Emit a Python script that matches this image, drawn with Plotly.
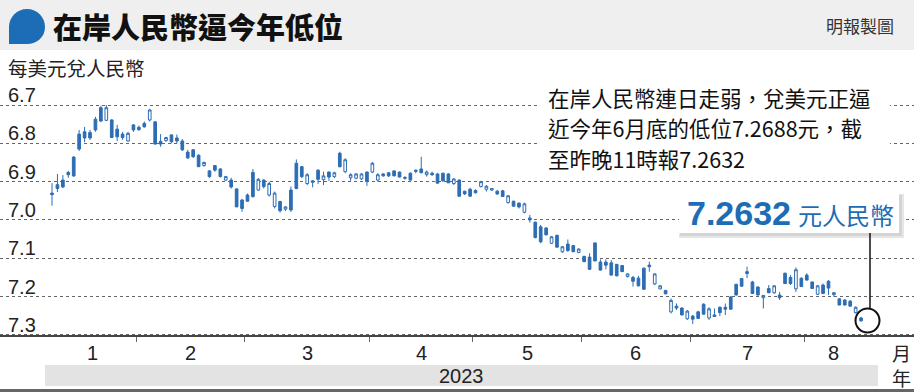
import plotly.graph_objects as go

# ---------------- data ----------------
month_labels = ["1", "2", "3", "4", "5", "6", "7", "8"]
month_counts = [16, 20, 23, 19, 20, 20, 21, 11]   # trading days drawn per month
year_label = "2023"

y_tickvals = [6.7, 6.8, 6.9, 7.0, 7.1, 7.2, 7.3]
y_ticktext = ["6.7", "6.8", "6.9", "7.0", "7.1", "7.2", "7.3"]

opens = [
    6.930, 6.908, 6.896, 6.876, 6.836, 6.776, 6.770, 6.772, 6.737, 6.707,
    6.740, 6.739, 6.763, 6.776, 6.794, 6.752, 6.758, 6.748, 6.739, 6.744,
    6.795, 6.793, 6.778, 6.786, 6.794, 6.823, 6.817, 6.831, 6.858, 6.872,
    6.858, 6.867, 6.896, 6.896, 6.919, 6.948, 6.935, 6.876, 6.922, 6.896,
    6.935, 6.965, 6.952, 6.972, 6.922, 6.852, 6.861, 6.905, 6.902, 6.870,
    6.895, 6.875, 6.887, 6.826, 6.874, 6.890, 6.891, 6.893, 6.875, 6.875,
    6.896, 6.880, 6.877, 6.872, 6.875, 6.889, 6.878, 6.870, 6.867, 6.882,
    6.878, 6.880, 6.878, 6.880, 6.905, 6.896, 6.925, 6.920, 6.923, 6.913,
    6.920, 6.922, 6.925, 6.924, 6.955, 6.951, 6.956, 6.980, 6.995, 7.006,
    7.018, 7.021, 7.061, 7.040, 7.083, 7.063, 7.067, 7.085, 7.095, 7.097,
    7.060, 7.110, 7.110, 7.112, 7.116, 7.119, 7.148, 7.150, 7.152, 7.126,
    7.118, 7.167, 7.180, 7.184, 7.240, 7.225, 7.230, 7.258, 7.251, 7.240,
    7.220, 7.256, 7.248, 7.228, 7.228, 7.201, 7.168, 7.153, 7.135, 7.162,
    7.175, 7.203, 7.179, 7.190, 7.196, 7.139, 7.150, 7.180, 7.152, 7.144,
    7.162, 7.194, 7.170, 7.160, 7.195, 7.206, 7.209, 7.212, 7.242, 7.256,
]
closes = [
    6.934, 6.918, 6.914, 6.882, 6.885, 6.815, 6.786, 6.786, 6.765, 6.742,
    6.707, 6.785, 6.783, 6.785, 6.774, 6.765, 6.764, 6.757, 6.713, 6.802,
    6.802, 6.785, 6.796, 6.794, 6.817, 6.838, 6.835, 6.861, 6.850, 6.887,
    6.870, 6.887, 6.887, 6.914, 6.966, 6.970, 6.951, 6.939, 6.894, 6.913,
    6.905, 6.930, 6.976, 6.966, 6.974, 6.918, 6.887, 6.882, 6.898, 6.894,
    6.885, 6.888, 6.877, 6.861, 6.843, 6.882, 6.880, 6.880, 6.900, 6.852,
    6.882, 6.885, 6.885, 6.885, 6.888, 6.891, 6.896, 6.873, 6.877, 6.875,
    6.882, 6.904, 6.898, 6.903, 6.893, 6.938, 6.932, 6.938, 6.929, 6.900,
    6.912, 6.918, 6.932, 6.939, 6.937, 6.964, 6.966, 6.958, 7.000, 7.046,
    7.057, 7.039, 7.044, 7.071, 7.070, 7.080, 7.083, 7.076, 7.109, 7.129,
    7.107, 7.131, 7.118, 7.144, 7.146, 7.135, 7.141, 7.160, 7.172, 7.181,
    7.122, 7.141, 7.172, 7.193, 7.210, 7.230, 7.248, 7.238, 7.259, 7.257,
    7.246, 7.232, 7.252, 7.242, 7.233, 7.233, 7.196, 7.173, 7.140, 7.192,
    7.196, 7.197, 7.190, 7.172, 7.203, 7.166, 7.166, 7.130, 7.174, 7.157,
    7.179, 7.172, 7.192, 7.178, 7.190, 7.222, 7.222, 7.225, 7.228, 7.2632,
]
highs = [
    6.963, 6.927, 6.917, 6.890, 6.888, 6.820, 6.797, 6.791, 6.770, 6.744,
    6.742, 6.786, 6.794, 6.791, 6.796, 6.770, 6.768, 6.759, 6.743, 6.803,
    6.809, 6.796, 6.800, 6.800, 6.820, 6.841, 6.838, 6.862, 6.861, 6.890,
    6.874, 6.889, 6.898, 6.918, 6.966, 6.979, 6.952, 6.942, 6.924, 6.918,
    6.939, 6.970, 6.981, 6.977, 6.979, 6.920, 6.891, 6.909, 6.915, 6.906,
    6.909, 6.898, 6.891, 6.863, 6.878, 6.898, 6.894, 6.896, 6.911, 6.878,
    6.900, 6.887, 6.888, 6.886, 6.889, 6.895, 6.897, 6.878, 6.878, 6.887,
    6.885, 6.905, 6.900, 6.904, 6.909, 6.939, 6.935, 6.939, 6.931, 6.915,
    6.926, 6.924, 6.935, 6.940, 6.957, 6.965, 6.970, 6.983, 7.007, 7.048,
    7.061, 7.040, 7.063, 7.072, 7.086, 7.083, 7.084, 7.087, 7.110, 7.130,
    7.108, 7.132, 7.129, 7.145, 7.147, 7.136, 7.150, 7.174, 7.174, 7.182,
    7.135, 7.170, 7.181, 7.194, 7.244, 7.235, 7.249, 7.261, 7.272, 7.258,
    7.247, 7.261, 7.253, 7.251, 7.248, 7.234, 7.197, 7.174, 7.152, 7.193,
    7.197, 7.231, 7.191, 7.193, 7.209, 7.167, 7.170, 7.188, 7.175, 7.158,
    7.180, 7.196, 7.193, 7.196, 7.201, 7.223, 7.223, 7.226, 7.244, 7.266,
]
lows = [
    6.904, 6.880, 6.883, 6.872, 6.833, 6.765, 6.757, 6.765, 6.731, 6.702,
    6.700, 6.737, 6.752, 6.770, 6.770, 6.750, 6.754, 6.743, 6.710, 6.743,
    6.776, 6.783, 6.777, 6.777, 6.789, 6.817, 6.815, 6.829, 6.848, 6.870,
    6.857, 6.865, 6.885, 6.890, 6.918, 6.945, 6.931, 6.867, 6.891, 6.894,
    6.900, 6.926, 6.950, 6.964, 6.913, 6.842, 6.859, 6.878, 6.896, 6.868,
    6.874, 6.874, 6.874, 6.822, 6.839, 6.878, 6.878, 6.878, 6.874, 6.849,
    6.878, 6.878, 6.875, 6.871, 6.874, 6.886, 6.876, 6.869, 6.835, 6.871,
    6.874, 6.878, 6.877, 6.878, 6.891, 6.894, 6.924, 6.916, 6.920, 6.898,
    6.909, 6.917, 6.922, 6.922, 6.935, 6.950, 6.955, 6.955, 6.987, 7.004,
    7.013, 7.019, 7.042, 7.039, 7.068, 7.051, 7.066, 7.074, 7.094, 7.087,
    7.059, 7.103, 7.103, 7.105, 7.115, 7.118, 7.139, 7.146, 7.146, 7.124,
    7.109, 7.139, 7.170, 7.183, 7.205, 7.218, 7.228, 7.235, 7.248, 7.237,
    7.218, 7.228, 7.231, 7.226, 7.218, 7.199, 7.167, 7.152, 7.122, 7.159,
    7.174, 7.196, 7.170, 7.170, 7.188, 7.138, 7.144, 7.124, 7.150, 7.139,
    7.161, 7.170, 7.166, 7.157, 7.188, 7.205, 7.207, 7.209, 7.226, 7.253,
]

title_text = "在岸人民幣逼今年低位"
source_text = "明報製圖"
unit_text = "每美元兌人民幣"
note_lines = [
    "在岸人民幣連日走弱，兌美元正逼",
    "近今年6月底的低位7.2688元，截",
    "至昨晚11時報7.2632",
]
latest_value = "7.2632"
latest_unit = "元人民幣"

# ---------------- layout helpers ----------------
W, H = 914, 392
AREA_TOP, AREA_BOTTOM = 76, 342      # plot area in figure pixels
AXIS_Y = 335                         # pixel row of the x-axis line (value 7.3)
GRID_TOP_Y = 105                     # pixel row of 6.7
PX_PER_UNIT = 383.1
BLUE = "#2d6db4"
CJK = "Noto Sans CJK TC, Noto Sans CJK SC, sans-serif"
SANS = "Liberation Sans, Arial, sans-serif"


def px(x):
    return x / W


def py(y):
    return (AREA_BOTTOM - y) / (AREA_BOTTOM - AREA_TOP)


def yval(ypix):
    return 6.7 + (ypix - GRID_TOP_Y) / PX_PER_UNIT


idx = list(range(len(opens)))
bounds = []
c = 0
for n in month_counts:
    c += n
    bounds.append(c - 0.5)
starts = [-0.5] + bounds[:-1]
month_centers = [(s + e) / 2 for s, e in zip(starts, bounds)]

fig = go.Figure()
fig.add_trace(go.Candlestick(
    x=idx, open=opens, high=highs, low=lows, close=closes,
    increasing=dict(line=dict(color=BLUE, width=1), fillcolor=BLUE),
    decreasing=dict(line=dict(color=BLUE, width=1), fillcolor="white"),
    whiskerwidth=0, showlegend=False, hoverinfo="skip",
))

x0_px, step_px = 52.0, 5.43
xr0 = -x0_px / step_px
xr1 = (W - x0_px) / step_px

fig.update_layout(
    width=W, height=H,
    margin=dict(l=0, r=0, t=AREA_TOP, b=H - AREA_BOTTOM, pad=0),
    paper_bgcolor="white", plot_bgcolor="white",
    showlegend=False,
    xaxis=dict(
        range=[xr0, xr1], tickvals=bounds[:-1], ticks="outside", ticklen=5,
        tickcolor="#666", tickwidth=1, showticklabels=False, showgrid=False,
        showline=True, linecolor="#444", linewidth=1.5, zeroline=False,
        anchor="free", position=py(AXIS_Y),
        rangeslider=dict(visible=False), fixedrange=True,
    ),
    yaxis=dict(
        range=[yval(AREA_BOTTOM), yval(AREA_TOP)], tickvals=y_tickvals,
        ticktext=y_ticktext,
        ticklabelposition="inside top", ticks="", ticklabelstandoff=5,
        ticklabelshift=-4,
        showgrid=True, gridcolor="#666", griddash="dot", gridwidth=1,
        zeroline=False, showline=False,
        tickfont=dict(family=SANS, size=20, color="#222"),
        fixedrange=True,
    ),
)

shapes = []
# header band
shapes.append(dict(type="rect", xref="paper", yref="paper", x0=0, x1=1,
                   y0=py(50), y1=py(0), fillcolor="#efefef", line=dict(width=0),
                   layer="above"))
# blue bubble icon
bubble = (f"M {px(9)},{py(44)} L {px(9)},{py(27)} "
          f"C {px(9)},{py(17)} {px(17)},{py(9)} {px(27)},{py(9)} "
          f"C {px(37)},{py(9)} {px(45)},{py(17)} {px(45)},{py(27)} "
          f"C {px(45)},{py(37)} {px(37)},{py(44)} {px(27)},{py(44)} Z")
shapes.append(dict(type="path", xref="paper", yref="paper", path=bubble,
                   fillcolor="#1c6db5", line=dict(width=0), layer="above"))
# white box behind the note text
shapes.append(dict(type="rect", xref="paper", yref="paper", x0=px(538), x1=px(890),
                   y0=py(172), y1=py(82), fillcolor="white", line=dict(width=0),
                   layer="above"))
# value box with soft shadow
shapes.append(dict(type="rect", xref="paper", yref="paper", x0=px(679), x1=px(904),
                   y0=py(238), y1=py(194), fillcolor="#e6e6e6", line=dict(width=0),
                   layer="above"))
shapes.append(dict(type="rect", xref="paper", yref="paper", x0=px(680), x1=px(902),
                   y0=py(236), y1=py(195), fillcolor="#d4d4d4", line=dict(width=0),
                   layer="above"))
shapes.append(dict(type="rect", xref="paper", yref="paper", x0=px(679), x1=px(899),
                   y0=py(233), y1=py(194), fillcolor="white", line=dict(width=0),
                   layer="above"))
# connector + circle
shapes.append(dict(type="line", xref="paper", yref="paper", x0=px(870), x1=px(870),
                   y0=py(233), y1=py(309), line=dict(color="#111", width=1.5),
                   layer="above"))
shapes.append(dict(type="circle", xref="paper", yref="paper", x0=px(855.5), x1=px(879.5),
                   y0=py(332.5), y1=py(308.5), line=dict(color="#111", width=2),
                   layer="above"))
# year bar and bottom rule
shapes.append(dict(type="rect", xref="paper", yref="paper", x0=px(45), x1=px(878),
                   y0=py(386), y1=py(365), fillcolor="#e3e3e3", line=dict(width=0),
                   layer="above"))
shapes.append(dict(type="line", xref="paper", yref="paper", x0=0, x1=1,
                   y0=py(390.5), y1=py(390.5), line=dict(color="#666", width=3),
                   layer="above"))
fig.update_layout(shapes=shapes)

ann = []
ann.append(dict(text=title_text, x=px(51), y=py(26), xref="paper", yref="paper",
                xanchor="left", yanchor="middle", showarrow=False,
                font=dict(family=CJK, size=29, color="#111", weight=900)))
ann.append(dict(text=source_text, x=px(896), y=py(25), xref="paper", yref="paper",
                xanchor="right", yanchor="middle", showarrow=False,
                font=dict(family=CJK, size=17, color="#333")))
ann.append(dict(text=unit_text, x=px(6), y=py(67), xref="paper", yref="paper",
                xanchor="left", yanchor="middle", showarrow=False,
                font=dict(family=CJK, size=19.5, color="#222")))
for i, line in enumerate(note_lines):
    ann.append(dict(text=line, x=px(546), y=py(97 + i * 30.5), xref="paper", yref="paper",
                    xanchor="left", yanchor="middle", showarrow=False,
                    font=dict(family=CJK, size=21.5, color="#111")))
ann.append(dict(text=f"<b>{latest_value}</b>", x=px(685), y=py(213), xref="paper",
                yref="paper", xanchor="left", yanchor="middle", showarrow=False,
                font=dict(family=SANS, size=34, color="#1c6db5")))
ann.append(dict(text=latest_unit, x=px(796), y=py(215), xref="paper", yref="paper",
                xanchor="left", yanchor="middle", showarrow=False,
                font=dict(family=CJK, size=24, color="#1c6db5")))
for lab, cx in zip(month_labels, month_centers):
    ann.append(dict(text=lab, x=cx, y=py(353), xref="x", yref="paper",
                    xanchor="center", yanchor="middle", showarrow=False,
                    font=dict(family=SANS, size=20, color="#222")))
ann.append(dict(text="月", x=px(901), y=py(352), xref="paper", yref="paper",
                xanchor="center", yanchor="middle", showarrow=False,
                font=dict(family=CJK, size=19, color="#222")))
ann.append(dict(text="年", x=px(901), y=py(377), xref="paper", yref="paper",
                xanchor="center", yanchor="middle", showarrow=False,
                font=dict(family=CJK, size=19, color="#222")))
ann.append(dict(text=year_label, x=px(461.5), y=py(376), xref="paper", yref="paper",
                xanchor="center", yanchor="middle", showarrow=False,
                font=dict(family=SANS, size=20, color="#222")))
fig.update_layout(annotations=ann)

fig.write_html("out.html", config={"displayModeBar": False, "staticPlot": True},
               post_script="document.body.style.margin='0';"
                           "document.body.style.padding='0';")
